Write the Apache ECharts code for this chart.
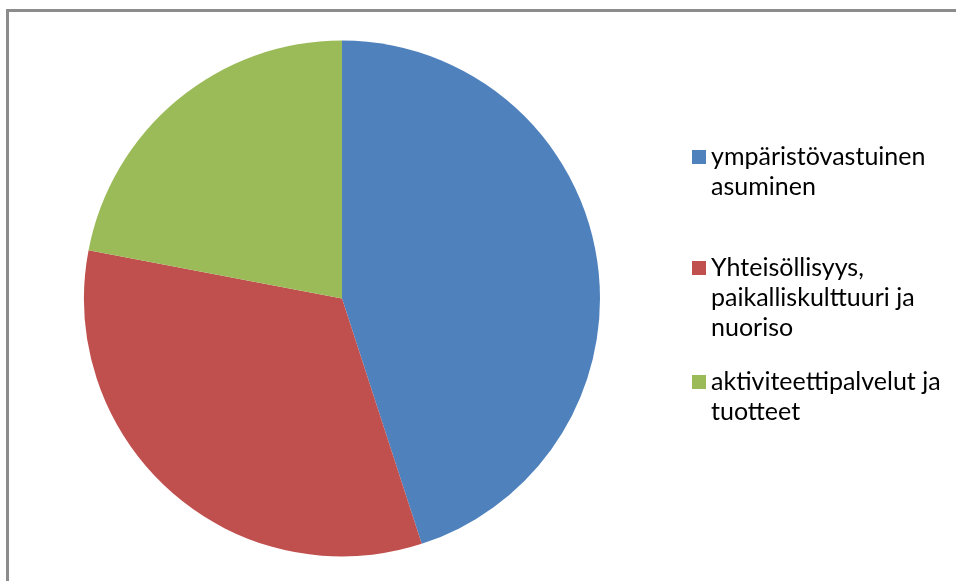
<!DOCTYPE html>
<html>
<head>
<meta charset="utf-8">
<script src="https://cdn.jsdelivr.net/npm/echarts@6/dist/echarts.min.js"></script>
<style>
html,body{margin:0;padding:0;background:#fff;}
#c{width:956px;height:581px;}
</style>
</head>
<body>
<div id="c"></div>
<script>
const categories = ['ympäristövastuinen\nasuminen', 'Yhteisöllisyys,\npaikalliskulttuuri ja\nnuoriso', 'aktiviteettipalvelut ja\ntuotteet'];
const values = [45, 33, 22];
const colors = ['#4F81BD', '#C0504D', '#9BBB59'];

const chart = echarts.init(document.getElementById('c'), null, {renderer: 'canvas'});
const LH = 30;
const legendTops = [112, 193, 337];
const legends = categories.map((name, i) => {
  const lines = name.split('\n').length;
  return {
    data: [name],
    orient: 'vertical',
    left: 692,
    top: legendTops[i],
    padding: 0,
    itemWidth: 14,
    itemHeight: 14,
    icon: 'rect',
    selectedMode: false,
    formatter: n => '\n'.repeat(lines - 1) + n,
    textStyle: {
      fontFamily: 'Lato',
      fontSize: 25,
      lineHeight: LH,
      color: '#000'
    }
  };
});

chart.setOption({
  animation: false,
  color: colors,
  graphic: [{
    type: 'rect',
    shape: {x: 7.5, y: 10.5, width: 1200, height: 1200},
    style: {fill: null, stroke: '#8c8c8c', lineWidth: 3},
    silent: true
  }],
  legend: legends,
  series: [{
    type: 'pie',
    center: [342, 298.5],
    radius: 258,
    startAngle: 90,
    clockwise: true,
    label: {show: false},
    labelLine: {show: false},
    emphasis: {disabled: true},
    itemStyle: {borderWidth: 0},
    data: categories.map((n, i) => ({name: n, value: values[i]}))
  }]
});
</script>
</body>
</html>
